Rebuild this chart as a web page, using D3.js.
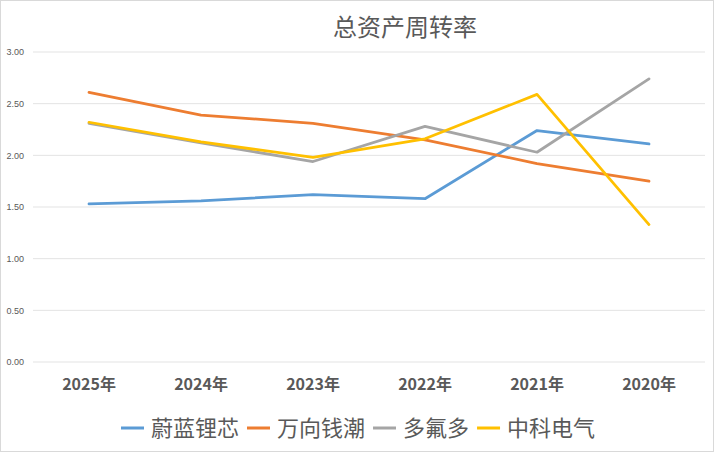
<!DOCTYPE html>
<html lang="zh">
<head>
<meta charset="UTF-8">
<title>总资产周转率</title>
<script src="https://cdnjs.cloudflare.com/ajax/libs/d3/7.8.5/d3.min.js"></script>
<style>
  body { margin: 0; padding: 0; background: #ffffff; }
  #chart { width: 719px; height: 454px; }
</style>
</head>
<body>
<div id="chart"></div>
<script>
const years = ["2025年", "2024年", "2023年", "2022年", "2021年", "2020年"];
const seriesNames = ["蔚蓝锂芯", "万向钱潮", "多氟多", "中科电气"];
const seriesColors = ["#5b9bd5", "#ed7d31", "#a5a5a5", "#ffc000"];
const weilan = [1.53, 1.56, 1.62, 1.58, 2.24, 2.11];
const wanxiang = [2.61, 2.39, 2.31, 2.15, 1.92, 1.75];
const duofuduo = [2.31, 2.12, 1.94, 2.28, 2.03, 2.74];
const zhongke = [2.32, 2.13, 1.98, 2.16, 2.59, 1.33];
const yTicks = [0, 0.5, 1, 1.5, 2, 2.5, 3];

const allSeries = [weilan, wanxiang, duofuduo, zhongke];
const width = 719, height = 454;
const margin = {top: 52, right: 14, bottom: 92, left: 33};

const svg = d3.select("#chart").append("svg")
  .attr("width", width).attr("height", height);

// outer frame
svg.append("rect")
  .attr("x", 0.5).attr("y", 0.5)
  .attr("width", width - 6).attr("height", height - 3)
  .attr("fill", "#fff").attr("stroke", "#d9d9d9");

const x = d3.scaleBand().domain(years)
  .range([margin.left, width - margin.right]);
const y = d3.scaleLinear().domain([0, 3])
  .range([height - margin.bottom, margin.top]);

// gridlines
svg.append("g").selectAll("line").data(yTicks).join("line")
  .attr("x1", margin.left).attr("x2", width - margin.right)
  .attr("y1", d => y(d)).attr("y2", d => y(d))
  .attr("stroke", "#e3e3e3").attr("stroke-width", 1);

// y axis labels
const yAxis = svg.append("g")
  .attr("transform", `translate(${margin.left - 6},0)`)
  .call(d3.axisLeft(y).tickValues(yTicks).tickFormat(d3.format(".2f")).tickSize(0));
yAxis.select(".domain").remove();
yAxis.selectAll("text")
  .attr("fill", "#595959")
  .style("font-family", "'Liberation Sans', Arial, sans-serif")
  .style("font-size", "9px");

// x axis labels
const xAxis = svg.append("g")
  .attr("transform", `translate(0,${y(0) + 14})`)
  .call(d3.axisBottom(x).tickSize(0));
xAxis.select(".domain").remove();
xAxis.selectAll("text")
  .attr("fill", "#595959")
  .style("font-family", "'Noto Sans CJK SC', sans-serif")
  .style("font-weight", "bold")
  .style("font-size", "16px");

// lines
const line = d3.line()
  .x((d, i) => x(years[i]) + x.bandwidth() / 2)
  .y(d => y(d));

svg.append("g").selectAll("path").data(allSeries).join("path")
  .attr("d", d => line(d))
  .attr("fill", "none")
  .attr("stroke", (d, i) => seriesColors[i])
  .attr("stroke-width", 2.75)
  .attr("stroke-linejoin", "round")
  .attr("stroke-linecap", "round");

// title
svg.append("text")
  .attr("x", 405).attr("y", 36)
  .attr("text-anchor", "middle")
  .attr("fill", "#595959")
  .style("font-family", "'Noto Sans CJK SC', sans-serif")
  .style("font-size", "24px")
  .text("总资产周转率");

// legend
const legend = svg.append("g").attr("transform", "translate(121,428)");
let lx = 0;
seriesNames.forEach((name, i) => {
  const g = legend.append("g").attr("transform", `translate(${lx},0)`);
  g.append("line")
    .attr("x1", 0).attr("x2", 23)
    .attr("stroke", seriesColors[i])
    .attr("stroke-width", 3);
  const t = g.append("text")
    .attr("x", 30).attr("y", 8)
    .attr("fill", "#595959")
    .style("font-family", "'Noto Sans CJK SC', sans-serif")
    .style("font-size", "22px")
    .text(name);
  lx += 30 + t.node().getComputedTextLength() + 8;
});
</script>
</body>
</html>
